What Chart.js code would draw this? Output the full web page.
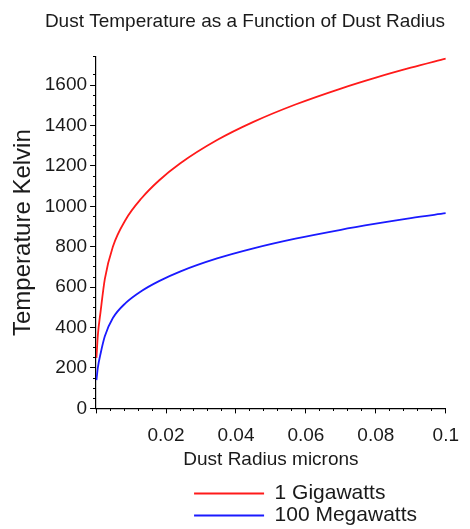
<!DOCTYPE html>
<html>
<head>
<meta charset="utf-8">
<script src="https://cdn.jsdelivr.net/npm/chart.js@4.4.1/dist/chart.umd.min.js"></script>
<style>
  html, body { margin: 0; padding: 0; background: #fff; overflow: hidden; }
</style>
</head>
<body>
<canvas id="dustChart" width="470" height="536"></canvas>
<script>
// Dust radius (microns) and temperature (Kelvin)
const radius = [0.0001, 0.0005, 0.0013, 0.0025, 0.0048, 0.0085, 0.013, 0.018, 0.024, 0.0346, 0.045, 0.057, 0.07, 0.08, 0.09, 0.1];
const tempGigawatt = [250, 360, 480, 640, 800, 935, 1040, 1128, 1212, 1328, 1418, 1504, 1583, 1637, 1686, 1731];
const tempMegawatt = [140, 201, 272, 357, 447, 522, 581, 630, 677, 742, 792, 840, 884, 914, 942, 966];

const xTicks = [0, 0.02, 0.04, 0.06, 0.08, 0.1];
const xTickLabels = ['', '0.02', '0.04', '0.06', '0.08', '0.1'];
const yTicks = [0, 200, 400, 600, 800, 1000, 1200, 1400, 1600];

const FONT = "'Liberation Sans', Arial, sans-serif";
const INK = '#1a1a1a';

// push legend rows over so they line up under the axis title
const legendOffset = {
    id: 'legendOffset',
    afterLayout(chart) {
        chart.legend.left = chart.chartArea.left + 97;
    }
};

const ctx = document.getElementById('dustChart').getContext('2d');
new Chart(ctx, {
    type: 'line',
    data: {
        datasets: [
            {
                label: '1 Gigawatts',
                data: radius.map((r, i) => ({ x: r, y: tempGigawatt[i] })),
                borderColor: '#ff1a1a',
                backgroundColor: '#ff1a1a',
                borderWidth: 1.8,
                pointRadius: 0,
                cubicInterpolationMode: 'monotone'
            },
            {
                label: '100 Megawatts',
                data: radius.map((r, i) => ({ x: r, y: tempMegawatt[i] })),
                borderColor: '#1a1aff',
                backgroundColor: '#1a1aff',
                borderWidth: 1.8,
                pointRadius: 0,
                cubicInterpolationMode: 'monotone'
            }
        ]
    },
    options: {
        responsive: false,
        animation: false,
        layout: { padding: { left: 20, right: 0, top: 0, bottom: 0 } },
        plugins: {
            title: {
                display: true,
                text: 'Dust Temperature as a Function of Dust Radius',
                color: INK,
                font: { family: FONT, size: 19, weight: 'normal' },
                padding: { top: 10, bottom: 24 }
            },
            legend: {
                position: 'bottom',
                fullSize: false,
                align: 'start',
                labels: {
                    usePointStyle: true,
                    pointStyle: 'line',
                    pointStyleWidth: 70,
                    padding: 1,
                    color: INK,
                    font: { family: FONT, size: 21 }
                }
            },
            tooltip: { enabled: false }
        },
        scales: {
            x: {
                type: 'linear',
                min: 0,
                max: 0.1,
                afterBuildTicks: s => { s.ticks = xTicks.map(v => ({ value: v })); },
                ticks: {
                    autoSkip: false,
                    maxRotation: 0,
                    padding: 11,
                    color: INK,
                    font: { family: FONT, size: 19 },
                    callback: (v, i) => xTickLabels[i]
                },
                grid: { drawOnChartArea: false, tickLength: 5, color: '#000' },
                border: { color: '#000', width: 1.2 },
                title: {
                    display: true,
                    text: 'Dust Radius microns',
                    color: INK,
                    font: { family: FONT, size: 19 },
                    padding: { top: -10, bottom: 11 }
                }
            },
            y: {
                min: 0,
                max: 1740,
                afterBuildTicks: s => { s.ticks = yTicks.map(v => ({ value: v })); },
                ticks: {
                    padding: 3,
                    color: INK,
                    font: { family: FONT, size: 19 },
                    callback: v => String(v)
                },
                grid: { drawOnChartArea: false, tickLength: 6, color: '#000' },
                border: { color: '#000', width: 1.2 },
                title: {
                    display: true,
                    text: 'Temperature Kelvin',
                    color: INK,
                    font: { family: FONT, size: 24 },
                    padding: { top: -11, bottom: 4 }
                }
            },
            // minor tick marks, drawn on the axis lines
            xMinor: {
                type: 'linear',
                position: { y: 0 },
                min: 0,
                max: 0.1,
                ticks: { display: false, stepSize: 0.004, maxTicksLimit: 100 },
                grid: { drawOnChartArea: false, tickLength: 3, color: '#000' },
                border: { display: false }
            },
            yMinor: {
                type: 'linear',
                axis: 'y',
                position: { x: 0 },
                min: 0,
                max: 1740,
                ticks: { display: false, stepSize: 50, maxTicksLimit: 100 },
                grid: { drawOnChartArea: false, tickLength: 3, color: '#000' },
                border: { display: false }
            }
        }
    },
    plugins: [legendOffset]
});
</script>
</body>
</html>
